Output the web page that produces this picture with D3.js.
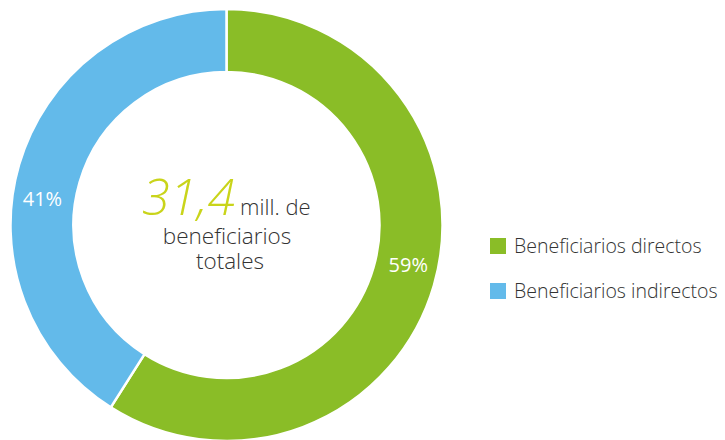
<!DOCTYPE html>
<html>
<head>
<meta charset="utf-8">
<script src="https://cdn.jsdelivr.net/npm/d3@7"></script>
<style>
  html, body { margin: 0; padding: 0; background: #fff; }
  svg { display: block; font-family: "Open Sans", sans-serif; }
</style>
</head>
<body>
<svg id="chart" width="725" height="440"></svg>
<script>
const categories = ["Beneficiarios directos", "Beneficiarios indirectos"];
const values = [59, 41];
const labels = ["59%", "41%"];
const colors = ["#8abd27", "#63baea"];
const centerValue = "31,4";
const centerLines = ["mill. de", "beneficiarios", "totales"];

const svg = d3.select("#chart");
const cx = 226.5, cy = 225, outerR = 216, innerR = 153;

const pie = d3.pie().sort(null).value(d => d)(values);
const arc = d3.arc().innerRadius(innerR).outerRadius(outerR);
const labelArc = d3.arc().innerRadius(186).outerRadius(186);

const g = svg.append("g").attr("transform", `translate(${cx},${cy})`);
g.selectAll("path.slice").data(pie).join("path")
  .attr("class", "slice")
  .attr("d", arc)
  .attr("fill", (d, i) => colors[i])
  .attr("stroke", "#fff")
  .attr("stroke-width", 2.5);

const shift = [-4, -8].map(a => a * Math.PI / 180);
g.selectAll("text.pct").data(pie).join("text")
  .attr("class", "pct")
  .attr("transform", (d, i) => {
    const m = (d.startAngle + d.endAngle) / 2 + shift[i];
    const c = labelArc.centroid({startAngle: m, endAngle: m});
    return `translate(${c[0]},${c[1]})`;
  })
  .attr("text-anchor", "middle")
  .attr("dy", "0.36em")
  .attr("fill", "#fff")
  .attr("font-size", 20)
  .attr("font-weight", 400)
  .text((d, i) => labels[i]);

// center text
const ct = svg.append("text")
  .attr("x", 142).attr("y", 215)
  .attr("fill", "#333");
ct.append("tspan")
  .attr("font-size", 50).attr("font-style", "italic").attr("font-weight", 300)
  .attr("fill", "#c9d41a")
  .text(centerValue);
ct.append("tspan")
  .attr("dx", 5)
  .attr("font-size", 22).attr("font-weight", 300)
  .text(centerLines[0]);

svg.append("text").attr("x", 227).attr("y", 244).attr("text-anchor", "middle")
  .attr("font-size", 22.5).attr("font-weight", 300).attr("fill", "#333")
  .text(centerLines[1]);
svg.append("text").attr("x", 230).attr("y", 269).attr("text-anchor", "middle")
  .attr("font-size", 22.5).attr("font-weight", 300).attr("fill", "#333")
  .text(centerLines[2]);

// legend
const lg = svg.append("g").selectAll("g").data(categories).join("g")
  .attr("transform", (d, i) => `translate(490,${238 + i * 45})`);
lg.append("rect").attr("width", 16).attr("height", 16).attr("fill", (d, i) => colors[i]);
lg.append("text").attr("x", 24).attr("y", 14.5)
  .attr("font-size", 19.5).attr("font-weight", 300).attr("fill", "#333")
  .text(d => d);
</script>
</body>
</html>
